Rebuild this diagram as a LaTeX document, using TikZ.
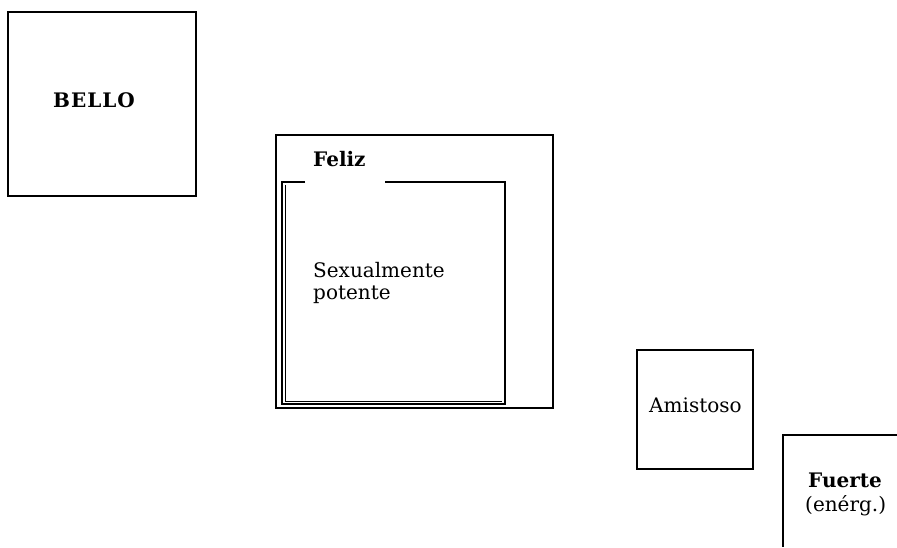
\documentclass[tikz,border=0pt]{standalone}
\usepackage{fontspec}
\setmainfont{DejaVu Serif}
\begin{document}
\begin{tikzpicture}[x=1pt,y=-1pt,
  box/.style={draw=black,line width=1.1pt},
  thinline/.style={draw=black,line width=0.6pt},
  lbl/.style={anchor=base west,inner sep=0pt,font=\fontsize{20}{24}\selectfont},
  blbl/.style={lbl,font=\fontsize{20}{24}\selectfont\bfseries}]
\useasboundingbox (0,0) rectangle (897,547);
% BELLO
\draw[box] (8,12) rectangle (196,196);
\node[blbl] (bello) at (53,107) {B\kern1ptE\kern1ptL\kern1ptL\kern1ptO};
% Feliz outer box
\draw[box] (276,135) rectangle (553,408);
\node[blbl] (feliz) at (313,166) {Feliz};
% inner box with gap in top edge
\draw[box] (305,182) -- (282,182) -- (282,404) -- (505,404) -- (505,182) -- (385,182);
\draw[thinline] (285,185) -- (285,401) -- (502,401);
\node[lbl] (sex) at (313,277) {Sexualmente};
\node[lbl] (pot) at (313,299) {potente};
% Amistoso
\draw[box] (637,350) rectangle (753,469);
\node[lbl] (ami) at (649,412) {Amistoso};
% Fuerte (cut off)
\draw[box] (897,435) -- (783,435) -- (783,547);
\node[blbl] (fue) at (808,487) {Fuerte};
\node[lbl] (ene) at (805,511) {(enérg.)};
\end{tikzpicture}
\end{document}
